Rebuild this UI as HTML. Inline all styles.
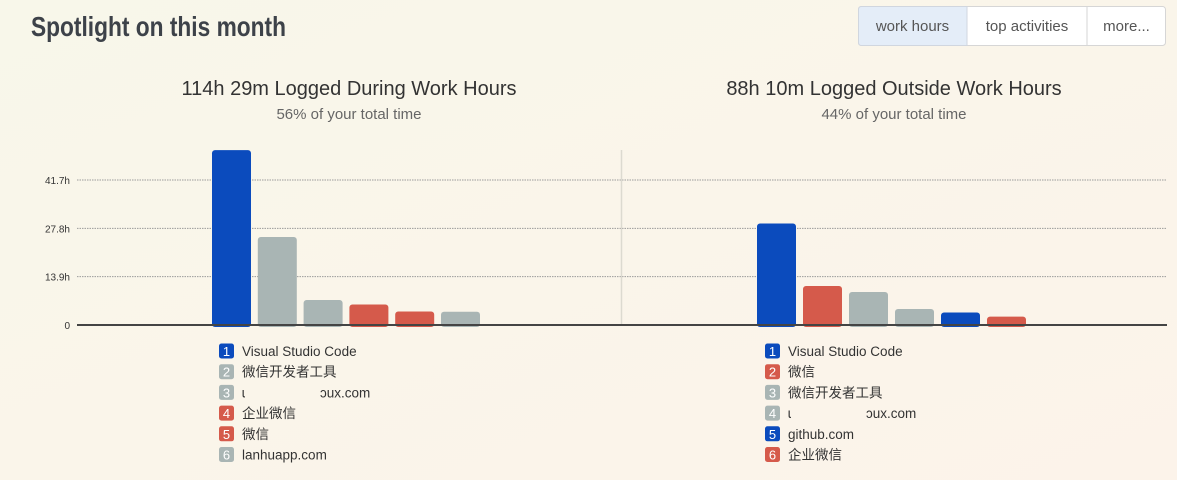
<!DOCTYPE html>
<html><head><meta charset="utf-8"><style>
html,body{margin:0;padding:0;width:1177px;height:480px;overflow:hidden;background:#f9f7ec;}
svg{display:block;}
.btn{cursor:pointer;}
</style></head><body>
<svg id="chart" width="1177" height="480" xmlns="http://www.w3.org/2000/svg" font-family="'Liberation Sans','Noto Sans CJK SC',sans-serif">
<defs><linearGradient id="bg" x1="0" y1="0" x2="1" y2="1"><stop offset="0" stop-color="#f8f7ea"/><stop offset="1" stop-color="#fcf3ea"/></linearGradient></defs>
<rect width="1177" height="480" fill="url(#bg)"/>
<text x="31" y="36" font-family="'Liberation Sans Narrow','Liberation Sans',sans-serif" font-weight="bold" font-size="28" fill="#3d4249" textLength="255" lengthAdjust="spacingAndGlyphs">Spotlight on this month</text>
<g>
<rect x="858.5" y="6.5" width="307" height="39" rx="3" fill="#fff" stroke="#d6d6d6"/>
<path d="M861.5 6.5 H967 V45.5 H861.5 Q858.5 45.5 858.5 42.5 V9.5 Q858.5 6.5 861.5 6.5Z" fill="#e4edf8" stroke="#d0d6df"/>
<line x1="1087" y1="7" x2="1087" y2="45" stroke="#d6d6d6"/>
<g class="btn"><text x="912.5" y="31" font-size="15" fill="#555" text-anchor="middle">work hours</text></g>
<g class="btn"><text x="1027" y="31" font-size="15" fill="#555" text-anchor="middle">top activities</text></g>
<g class="btn"><text x="1126.5" y="31" font-size="15" fill="#555" text-anchor="middle">more...</text></g>
</g>
<text x="349" y="95" font-size="20" fill="#333" text-anchor="middle">114h 29m Logged During Work Hours</text>
<text x="349" y="119" font-size="15" fill="#666" text-anchor="middle">56% of your total time</text>
<text x="894" y="95" font-size="20" fill="#333" text-anchor="middle">88h 10m Logged Outside Work Hours</text>
<text x="894" y="119" font-size="15" fill="#666" text-anchor="middle">44% of your total time</text>
<g id="grid"></g>
<line x1="621.5" y1="150" x2="621.5" y2="324" stroke="#dcdad0" stroke-width="1.5"/>
<g id="bars"></g>
<line x1="77" y1="325" x2="1167" y2="325" stroke="#444" stroke-width="2"/>
<g id="legend"></g>
</svg>
<script>
const tickValues = [0, 13.9, 27.8, 41.7];
const tickLabels = ["0", "13.9h", "27.8h", "41.7h"];
const workNames = ["Visual Studio Code", "微信开发者工具", "ɩ                    ɔux.com", "企业微信", "微信", "lanhuapp.com"];
const workValues = [50.3, 25.3, 7.2, 5.9, 3.9, 3.8];
const workColors = ["blue", "gray", "gray", "red", "red", "gray"];
const outNames = ["Visual Studio Code", "微信", "微信开发者工具", "ɩ                    ɔux.com", "github.com", "企业微信"];
const outValues = [29.2, 11.2, 9.5, 4.6, 3.6, 2.4];
const outColors = ["blue", "red", "gray", "gray", "blue", "red"];

const palette = {blue: "#0b4bbd", gray: "#a9b5b4", red: "#d55a4b"};
const NS = "http://www.w3.org/2000/svg";
const y0 = 325, pxPerH = 145 / 41.7;
function yScale(v){ return y0 - v * pxPerH; }
function mk(tag, attrs, parent){ const e = document.createElementNS(NS, tag); for (const k in attrs) e.setAttribute(k, attrs[k]); parent.appendChild(e); return e; }

const grid = document.getElementById('grid');
tickValues.forEach((v, i) => {
  const t = mk('text', {x: 70, y: yScale(v) + 4, 'font-size': 10, fill: '#333', 'text-anchor': 'end'}, grid);
  
  
  t.textContent = tickLabels[i];
  if (v > 0) {
    const l = mk('line', {x1: 77, x2: 1167, y1: yScale(v), y2: yScale(v), stroke: '#9a9a9a', 'stroke-width': 1, 'stroke-dasharray': '1.5 1'}, grid);
    
    
  }
});

const bars = document.getElementById('bars');
const legend = document.getElementById('legend');
function drawPanel(values, colors, names, startX, step, legX, prefix){
  values.forEach((v, i) => {
    const x = startX + i * step, top = yScale(v);
    const r = mk('rect', {x: x, y: top, width: 39, height: y0 - top + 2, rx: 3, fill: palette[colors[i]]}, bars);
    
    
  });
  names.forEach((n, i) => {
    const cy = 351 + i * 20.7;
    const g = mk('g', {}, legend);
    
    
    mk('rect', {x: legX, y: cy - 7.5, width: 15, height: 15, rx: 2.5, fill: palette[colors[i]]}, g);
    const num = mk('text', {x: legX + 7.5, y: cy + 5, 'font-size': 13, fill: '#fff', 'text-anchor': 'middle'}, g);
    num.textContent = String(i + 1);
    const t = mk('text', {x: legX + 23, y: cy + 5, 'font-size': 13.5, fill: '#333', 'xml:space': 'preserve'}, g);
    t.style.whiteSpace = 'pre';
    t.textContent = names[i];
  });
}
drawPanel(workValues, workColors, workNames, 212, 45.8, 219, 'work');
drawPanel(outValues, outColors, outNames, 757, 46, 765, 'outside');
</script>
</body></html>
